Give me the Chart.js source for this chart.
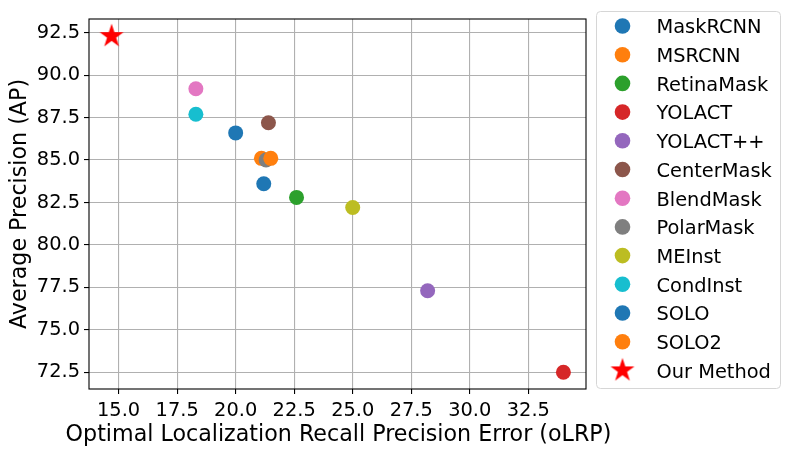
<!DOCTYPE html>
<html>
<head>
<meta charset="utf-8">
<script src="https://cdn.jsdelivr.net/npm/chart.js@4.4.1/dist/chart.umd.min.js"></script>
<style>
  html, body { margin: 0; padding: 0; background: #fff; }
  #wrap { width: 790px; height: 453px; }
</style>
</head>
<body>
<div id="wrap"><canvas id="chart" width="790" height="453"></canvas></div>
<script>
// --- data ---
const methods = ['MaskRCNN', 'MSRCNN', 'RetinaMask', 'YOLACT', 'YOLACT++', 'CenterMask',
                 'BlendMask', 'PolarMask', 'MEInst', 'CondInst', 'SOLO', 'SOLO2'];
const olrp = [20.0, 21.1, 22.6, 34.0, 28.2, 21.4, 18.3, 21.3, 25.0, 18.3, 21.2, 21.5];
const ap   = [86.6, 85.1, 82.8, 72.5, 77.3, 87.2, 89.2, 85.0, 82.2, 87.7, 83.6, 85.1];
const oursLabel = 'Our Method';
const oursOlrp = [14.7];
const oursAp = [92.3];

const xTicks = [15.0, 17.5, 20.0, 22.5, 25.0, 27.5, 30.0, 32.5];
const yTicks = [72.5, 75.0, 77.5, 80.0, 82.5, 85.0, 87.5, 90.0, 92.5];
const xTitle = 'Optimal Localization Recall Precision Error (oLRP)';
const yTitle = 'Average Precision (AP)';

const palette = ['#1f77b4', '#ff7f0e', '#2ca02c', '#d62728', '#9467bd', '#8c564b',
                 '#e377c2', '#7f7f7f', '#bcbd22', '#17becf'];

// filled 5-point star, like matplotlib's '*' marker
function makeStar(R, color) {
    const c = document.createElement('canvas');
    const size = Math.ceil(R * 2 + 2);
    c.width = size; c.height = size;
    const g = c.getContext('2d');
    const cx = size / 2, cy = size / 2, r = R * 0.381966;
    g.beginPath();
    for (let i = 0; i < 10; i++) {
        const rad = i % 2 ? r : R;
        const a = -Math.PI / 2 + i * Math.PI / 5;
        g.lineTo(cx + rad * Math.cos(a), cy + rad * Math.sin(a));
    }
    g.closePath();
    g.fillStyle = color;
    g.fill();
    return c;
}
const star = makeStar(12.6, '#ff0000');

const n = methods.length;
const datasets = methods.map((m, i) => ({
    label: m,
    data: [{ x: olrp[i], y: ap[i] }],
    backgroundColor: palette[i % palette.length],
    borderColor: palette[i % palette.length],
    borderWidth: 0,
    pointRadius: 7.5,
    pointHoverRadius: 7.5,
    pointStyle: 'circle',
    order: n + 1 - i   // later series on top, as in matplotlib
}));
datasets.push({
    label: oursLabel,
    data: oursOlrp.map((x, i) => ({ x: x, y: oursAp[i] })),
    backgroundColor: '#ff0000',
    borderColor: '#ff0000',
    pointStyle: star,
    pointRadius: 12.6,
    order: 0
});

// frame around the plot, x title (chart.js would squeeze it to the axis width), legend box
const framePlugin = {
    id: 'frame',
    afterDraw(chart) {
        const { ctx, chartArea: a } = chart;
        ctx.save();
        ctx.strokeStyle = '#000';
        ctx.lineWidth = 1.1;
        ctx.strokeRect(a.left, a.top, a.right - a.left, a.bottom - a.top);

        ctx.font = '22.2px "DejaVu Sans"';
        ctx.fillStyle = '#000';
        ctx.textAlign = 'center';
        ctx.textBaseline = 'middle';
        ctx.fillText(xTitle, (a.left + a.right) / 2 + 1, a.bottom + 46);

        // legend
        const bx = a.right + 10, by = a.top - 8, bw = 184, bh = a.bottom - a.top + 7;
        ctx.beginPath();
        ctx.roundRect(bx + 0.5, by + 0.5, bw, bh, 4);
        ctx.fillStyle = 'rgba(255,255,255,0.8)';
        ctx.fill();
        ctx.strokeStyle = '#d6d6d6';
        ctx.lineWidth = 1;
        ctx.stroke();

        ctx.font = '19.4px "DejaVu Sans"';
        ctx.textAlign = 'left';
        ctx.textBaseline = 'alphabetic';
        chart.data.datasets.forEach((ds, i) => {
            const mx = bx + 26.5, my = by + 15 + i * 28.7;
            if (ds.pointStyle === 'circle') {
                ctx.beginPath();
                ctx.arc(mx, my, 7.8, 0, Math.PI * 2);
                ctx.fillStyle = ds.backgroundColor;
                ctx.fill();
            } else {
                ctx.drawImage(ds.pointStyle, mx - ds.pointStyle.width / 2, my - ds.pointStyle.height / 2);
            }
            ctx.fillStyle = '#000';
            ctx.fillText(ds.label, bx + 60.5, my + 7.3);
        });
        ctx.restore();
    }
};

Chart.defaults.font.family = '"DejaVu Sans", sans-serif';
Chart.defaults.color = '#000';

new Chart(document.getElementById('chart'), {
    type: 'scatter',
    data: { datasets: datasets },
    options: {
        responsive: false,
        animation: false,
        layout: { padding: { top: 19, right: 204, left: 0, bottom: 0 } },
        plugins: { legend: { display: false }, tooltip: { enabled: false } },
        scales: {
            x: {
                min: 13.735,
                max: 34.965,
                afterBuildTicks: s => { s.ticks = xTicks.map(v => ({ value: v })); },
                afterFit: s => { s.height = 64; },
                ticks: { font: { size: 19.4 }, padding: 5, maxRotation: 0, callback: v => v.toFixed(1) },
                grid: { color: '#b0b0b0', lineWidth: 1.1, tickLength: 5, tickColor: '#000', tickWidth: 1.1 },
                border: { display: false },
                title: { display: false }
            },
            y: {
                min: 71.51,
                max: 93.31,
                afterBuildTicks: s => { s.ticks = yTicks.map(v => ({ value: v })); },
                afterFit: s => { s.width = 89; },
                ticks: { font: { size: 19.4 }, padding: 4, callback: v => v.toFixed(1) },
                grid: { color: '#b0b0b0', lineWidth: 1.1, tickLength: 5, tickColor: '#000', tickWidth: 1.1 },
                border: { display: false },
                title: {
                    display: true,
                    text: yTitle,
                    font: { size: 22.2 },
                    padding: { top: 6.5, bottom: 0 }
                }
            }
        }
    },
    plugins: [framePlugin]
});
</script>
</body>
</html>
